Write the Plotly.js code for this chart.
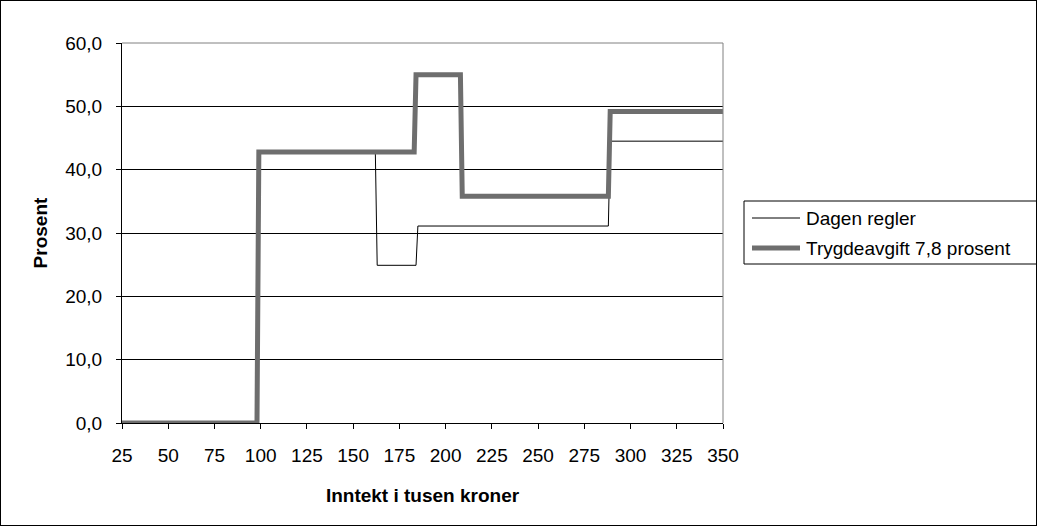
<!DOCTYPE html>
<html>
<head>
<meta charset="utf-8">
<script src="https://cdn.plot.ly/plotly-3.0.1.min.js"></script>
<style>
  html, body { margin: 0; padding: 0; background: #fff; }
  #chart { width: 1035px; height: 524px; border: 1px solid #000; }
</style>
</head>
<body>
<div id="chart"></div>
<script>
// Marginal tax rate by income (thousand NOK)
const seriesNames = ['Dagen regler', 'Trygdeavgift 7,8 prosent'];

const incomeCurrent = [25, 98, 99, 162, 163, 184, 185, 288, 289, 350];
const rateCurrent   = [0, 0, 42.8, 42.8, 24.9, 24.9, 31.1, 31.1, 44.5, 44.5];

const incomeLevy = [25, 98, 99, 183, 184, 208, 209, 288, 289, 350];
const rateLevy   = [0, 0, 42.8, 42.8, 55.0, 55.0, 35.8, 35.8, 49.2, 49.2];

const xTicks = [25, 50, 75, 100, 125, 150, 175, 200, 225, 250, 275, 300, 325, 350];
const yTicks = [0, 10, 20, 30, 40, 50, 60];

const xTitle = 'Inntekt i tusen kroner';
const yTitle = 'Prosent';

// figure geometry
const W = 1035, H = 524;
const M = { l: 121, r: 313, t: 42, b: 102 };
const plotW = W - M.l - M.r, plotH = H - M.t - M.b;
// page pixel -> paper coordinates (div has a 1px border)
const px = x => (x - 1 - M.l) / plotW;
const py = y => 1 - (y - 1 - M.t) / plotH;

const font = 'Liberation Sans, Arial, sans-serif';
const fs = 19;
const colCurrent = '#000000';
const colLevy = '#6e6e6e';

const traces = [
  { x: incomeCurrent, y: rateCurrent, name: seriesNames[0], type: 'scatter', mode: 'lines',
    line: { color: colCurrent, width: 1 }, hoverinfo: 'x+y' },
  { x: incomeLevy, y: rateLevy, name: seriesNames[1], type: 'scatter', mode: 'lines',
    line: { color: colLevy, width: 5, join: 'miter' }, hoverinfo: 'x+y' }
];

// legend box drawn by hand
const legL = 744, legT = 201, legB = 264, legR = 1040;
const rows = [218, 248];
const shapes = [
  { type: 'line', xref: 'paper', yref: 'paper', x0: 0, x1: 1, y0: 1, y1: 1, line: { color: '#808080', width: 1 } },
  { type: 'line', xref: 'paper', yref: 'paper', x0: 1, x1: 1, y0: 0, y1: 1, line: { color: '#808080', width: 1 } },
  { type: 'rect', xref: 'paper', yref: 'paper', x0: px(legL), x1: px(legR), y0: py(legB), y1: py(legT),
    line: { color: '#000', width: 1 }, fillcolor: 'rgba(0,0,0,0)' },
  { type: 'line', xref: 'paper', yref: 'paper', x0: px(752), x1: px(800), y0: py(rows[0]), y1: py(rows[0]),
    line: { color: colCurrent, width: 1 } },
  { type: 'line', xref: 'paper', yref: 'paper', x0: px(752), x1: px(800), y0: py(rows[1]), y1: py(rows[1]),
    line: { color: colLevy, width: 5 } }
];
const annotations = seriesNames.map((n, i) => ({
  xref: 'paper', yref: 'paper', x: px(804), y: py(rows[i]), xanchor: 'left', yanchor: 'middle',
  text: n, showarrow: false, font: { family: font, size: fs, color: '#000' }
}));

const layout = {
  width: W, height: H,
  margin: M,
  paper_bgcolor: '#fff', plot_bgcolor: '#fff',
  separators: ', ',
  showlegend: false,
  font: { family: font, size: fs, color: '#000' },
  xaxis: {
    range: [25, 350], tickvals: xTicks, ticktext: xTicks.map(String),
    showgrid: false, zeroline: false,
    showline: true, linecolor: '#000', linewidth: 1,
    ticks: 'outside', ticklen: 5, tickcolor: '#000',
    ticklabelstandoff: 10,
    tickfont: { family: font, size: fs },
    title: { text: xTitle, font: { family: font, size: fs, weight: 'bold' }, standoff: 23 }
  },
  yaxis: {
    range: [0, 60], tickvals: yTicks, tickformat: '.1f',
    showgrid: true, gridcolor: '#000', gridwidth: 1, zeroline: false,
    showline: true, linecolor: '#000', linewidth: 1,
    ticks: 'outside', ticklen: 5, tickcolor: '#000',
    ticklabelstandoff: 10,
    tickfont: { family: font, size: fs },
    title: { text: yTitle, font: { family: font, size: fs, weight: 'bold' }, standoff: 12 }
  },
  shapes: shapes,
  annotations: annotations
};

Plotly.newPlot('chart', traces, layout, { displayModeBar: false, staticPlot: true });
</script>
</body>
</html>
